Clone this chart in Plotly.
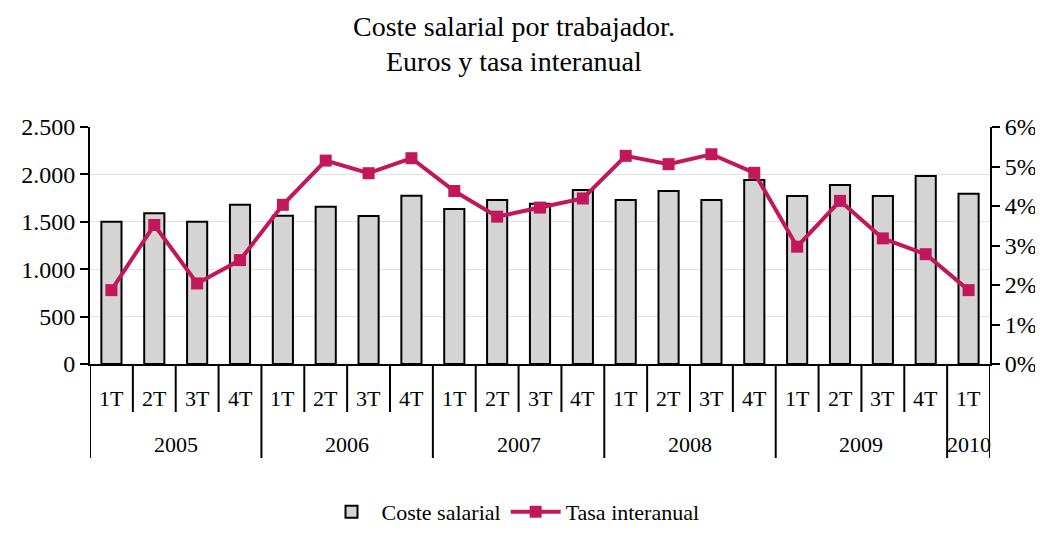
import plotly.graph_objects as go

# Quarterly wage cost per worker (euros) and year-on-year rate (%)
quarters = ['1T', '2T', '3T', '4T'] * 5 + ['1T']
years = ['2005', '2006', '2007', '2008', '2009', '2010']
year_sizes = [4, 4, 4, 4, 4, 1]
coste_salarial = [1500, 1590, 1500, 1680, 1565, 1660, 1560, 1775, 1635, 1730, 1690,
                  1835, 1730, 1825, 1730, 1940, 1772, 1888, 1772, 1983, 1795]
tasa_interanual = [1.87, 3.52, 2.04, 2.63, 4.03, 5.15, 4.83, 5.21, 4.38, 3.73, 3.96,
                   4.19, 5.27, 5.06, 5.31, 4.84, 2.97, 4.13, 3.18, 2.78, 1.87]
left_ticks = [0, 500, 1000, 1500, 2000, 2500]
right_ticks = [0, 1, 2, 3, 4, 5, 6]

FONT = 'Liberation Serif'
LINE_COLOR = '#C2185B'
x_pos = list(range(len(quarters)))

# figure sits inside the page body (8px margin), so coordinates are offset by 8
W, H = 1035, 519
L, R, T, B = 82, 53, 119, 163
plot_h = H - T - B

fig = go.Figure()

fig.add_trace(go.Bar(
    x=x_pos,
    y=coste_salarial,
    name='Coste salarial',
    marker=dict(color='#D4D4D4', line=dict(color='black', width=2)),
    yaxis='y'
))

fig.add_trace(go.Scatter(
    x=x_pos,
    y=tasa_interanual,
    name='Tasa interanual',
    mode='lines+markers',
    line=dict(color=LINE_COLOR, width=4),
    marker=dict(symbol='square', size=12, color=LINE_COLOR),
    yaxis='y2'
))

# Title lines and hand-drawn category axis (quarters, years, separators)
annotations = [
    dict(x=0.471, y=1, xref='paper', yref='paper', text='Coste salarial por trabajador.',
         showarrow=False, yanchor='middle', yshift=T - 18,
         font=dict(family=FONT, size=28, color='black')),
    dict(x=0.471, y=1, xref='paper', yref='paper', text='Euros y tasa interanual',
         showarrow=False, yanchor='middle', yshift=T - 53,
         font=dict(family=FONT, size=28, color='black')),
]
shapes = []
for i, q in enumerate(quarters):
    annotations.append(dict(x=i, y=0, xref='x', yref='paper', text=q, showarrow=False,
                            yanchor='middle', yshift=-34,
                            font=dict(family=FONT, size=22, color='black')))

start = 0
for yr, n in zip(years, year_sizes):
    annotations.append(dict(x=start + (n - 1) / 2, y=0, xref='x', yref='paper', text=yr,
                            showarrow=False, yanchor='middle', yshift=-80,
                            font=dict(family=FONT, size=22, color='black')))
    start += n

year_bounds = set()
acc = 0
for n in year_sizes:
    year_bounds.add(acc)
    acc += n
year_bounds.add(acc)

for k in range(len(quarters) + 1):
    depth = 94 if k in year_bounds else 48
    shapes.append(dict(type='line', xref='x', yref='paper', x0=k - 0.5, x1=k - 0.5,
                       y0=0, y1=-depth / plot_h, line=dict(color='black', width=2)))

fig.update_layout(
    template='none',
    width=W,
    height=H,
    margin=dict(l=L, r=R, t=T, b=B, pad=0),
    paper_bgcolor='white',
    plot_bgcolor='white',
    bargap=0.53,
    font=dict(family=FONT, size=22, color='black'),
    xaxis=dict(
        range=[-0.5, len(quarters) - 0.5],
        showticklabels=False,
        showgrid=False,
        zeroline=False,
        showline=True,
        linecolor='black',
        linewidth=2,
        ticks='',
        automargin=False
    ),
    yaxis=dict(
        range=[0, 2500],
        tickmode='array',
        tickvals=left_ticks,
        ticktext=[f'{v:,}'.replace(',', '.') for v in left_ticks],
        showline=True,
        linecolor='black',
        linewidth=2,
        ticks='outside',
        ticklen=8,
        tickwidth=2,
        tickcolor='black',
        showgrid=True,
        gridcolor='#E2E2E2',
        gridwidth=1,
        zeroline=False,
        automargin=False,
        tickfont=dict(family=FONT, size=24)
    ),
    yaxis2=dict(
        range=[0, 6],
        tickmode='array',
        tickvals=right_ticks,
        ticktext=[f'{v}%' for v in right_ticks],
        overlaying='y',
        side='right',
        showline=True,
        linecolor='black',
        linewidth=2,
        ticks='outside',
        ticklen=8,
        tickwidth=2,
        tickcolor='black',
        showgrid=False,
        zeroline=False,
        automargin=False,
        tickfont=dict(family=FONT, size=24)
    ),
    legend=dict(
        orientation='h',
        x=0.47,
        xanchor='center',
        yref='container',
        y=(H - 504) / H,
        yanchor='middle',
        font=dict(family=FONT, size=22),
        bgcolor='rgba(0,0,0,0)',
        itemwidth=50
    ),
    annotations=annotations,
    shapes=shapes
)

fig.write_html("out.html")
